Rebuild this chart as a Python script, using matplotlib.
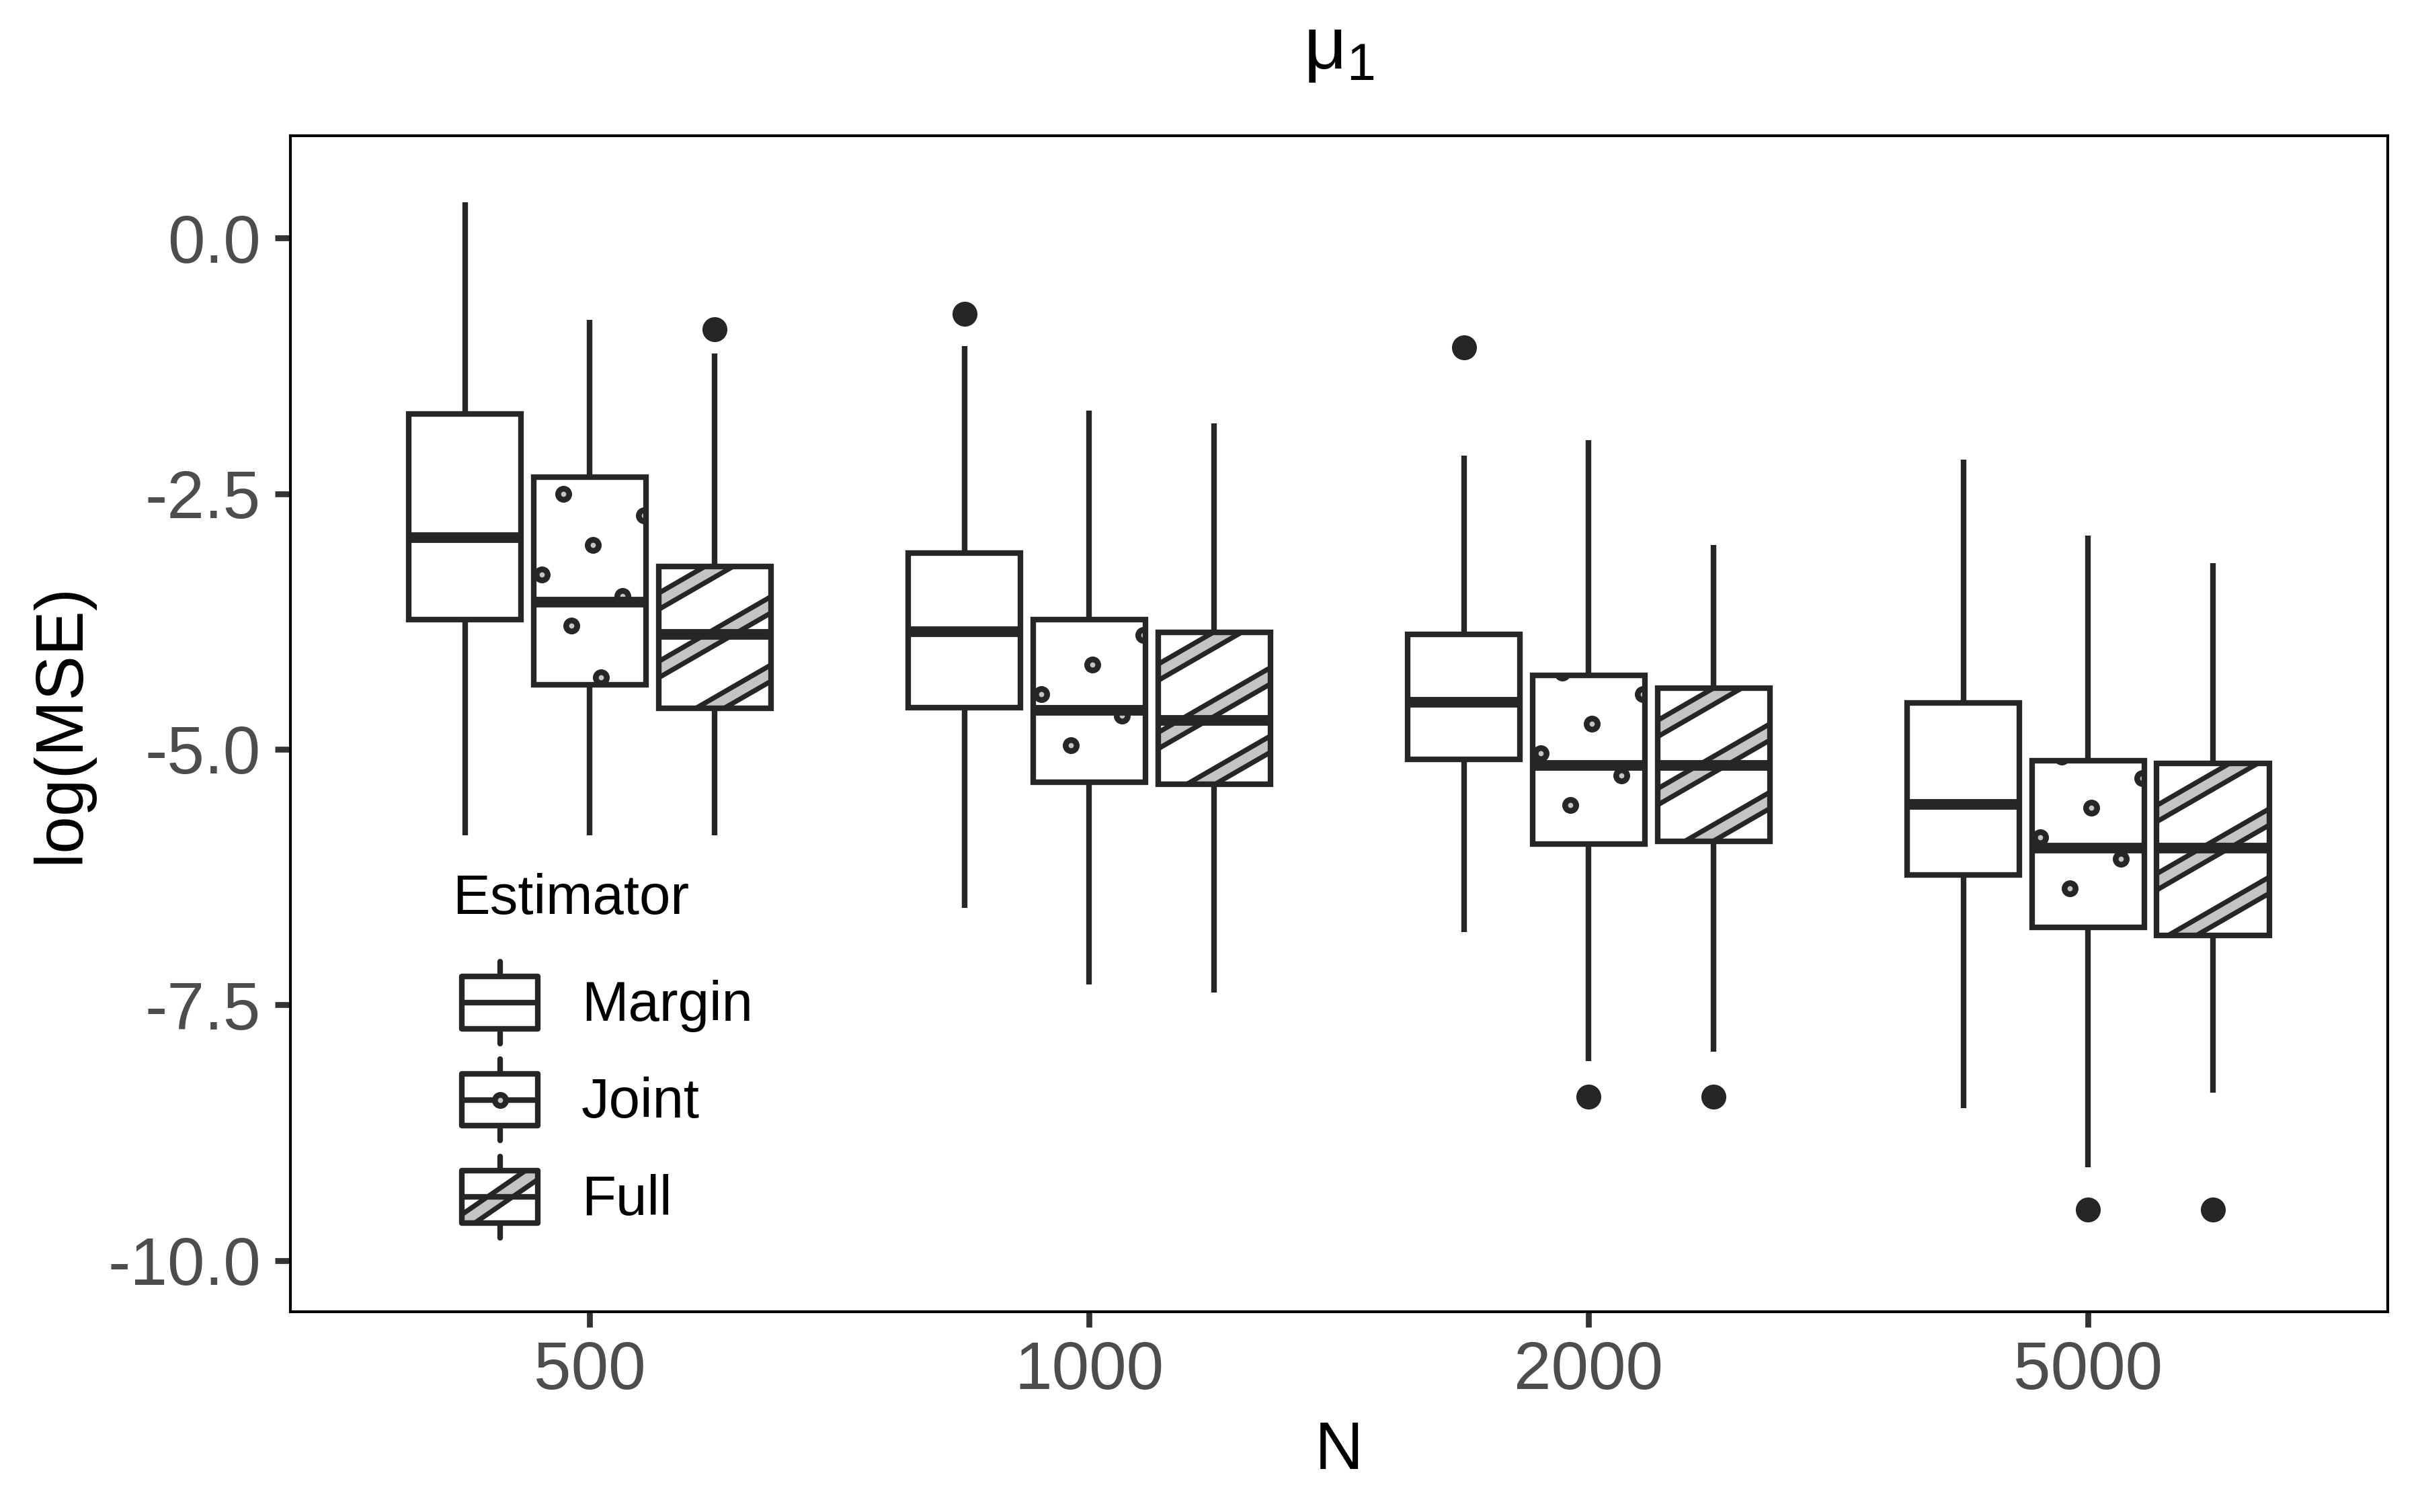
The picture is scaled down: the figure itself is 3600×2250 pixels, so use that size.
import numpy as np
import matplotlib
matplotlib.use("Agg")
import matplotlib.pyplot as plt
from matplotlib.patches import Polygon, PathPatch, Rectangle
from matplotlib.lines import Line2D
from matplotlib.legend_handler import HandlerBase

plt.rcParams['font.family'] = ['Liberation Sans', 'DejaVu Sans']
plt.rcParams['mathtext.fontset'] = 'custom'
plt.rcParams['mathtext.rm'] = 'Liberation Sans'
plt.rcParams['mathtext.it'] = 'Liberation Sans:italic'

DARK = '#262626'
GREY = '#c4c4c4'

# ---------------- data ----------------
n_labels = ['500', '1000', '2000', '5000']
estimators = ['Margin', 'Joint', 'Full']
patterns = ['none', 'circle', 'stripe']

margin_whishi = [0.35, -1.06, -2.13, -2.17]
margin_q3 = [-1.72, -3.08, -3.88, -4.55]
margin_med = [-2.93, -3.85, -4.54, -5.54]
margin_q1 = [-3.73, -4.59, -5.10, -6.23]
margin_whislo = [-5.84, -6.55, -6.79, -8.51]
margin_fliers = [[], [-0.74], [-1.07], []]

joint_whishi = [-0.80, -1.69, -1.98, -2.91]
joint_q3 = [-2.34, -3.73, -4.28, -5.11]
joint_med = [-3.56, -4.62, -5.16, -5.97]
joint_q1 = [-4.37, -5.32, -5.93, -6.74]
joint_whislo = [-5.84, -7.30, -8.05, -9.09]
joint_fliers = [[], [], [-8.40], [-9.50]]

full_whishi = [-1.13, -1.81, -3.00, -3.18]
full_q3 = [-3.21, -3.86, -4.40, -5.14]
full_med = [-3.88, -4.72, -5.16, -5.97]
full_q1 = [-4.60, -5.34, -5.90, -6.82]
full_whislo = [-5.84, -7.38, -7.96, -8.36]
full_fliers = [[-0.89], [], [-8.40], [-9.50]]

y_ticks = [0.0, -2.5, -5.0, -7.5, -10.0]
y_ticklabels = ['0.0', '-2.5', '-5.0', '-7.5', '-10.0']

series = {
    'Margin': dict(whishi=margin_whishi, q3=margin_q3, med=margin_med, q1=margin_q1,
                   whislo=margin_whislo, fliers=margin_fliers),
    'Joint': dict(whishi=joint_whishi, q3=joint_q3, med=joint_med, q1=joint_q1,
                  whislo=joint_whislo, fliers=joint_fliers),
    'Full': dict(whishi=full_whishi, q3=full_q3, med=full_med, q1=full_q1,
                 whislo=full_whislo, fliers=full_fliers),
}

# ---------------- figure ----------------
fig = plt.figure(figsize=(12, 7.5), dpi=300)
ax = fig.add_axes([0.1199, 0.1326, 0.8668, 0.7776])
XLIM = (0.4, 4.6)
YLIM = (-10.5, 1.0)
ax.set_xlim(*XLIM)
ax.set_ylim(*YLIM)
ax.set_autoscale_on(False)

# pixel scale (data -> px) for pattern geometry
sx = ax.bbox.width / (XLIM[1] - XLIM[0])
sy = ax.bbox.height / (YLIM[1] - YLIM[0])
pxs = fig.dpi / 300.0
SPACING = 88 * pxs
STRIPE_W = 21 * pxs
ANGLE = 30.0

offsets = [-0.25, 0.0, 0.25]
box_width = 0.225


def stripe_polys(xc, yc, hw, hh):
    th = np.radians(ANGLE)
    d = np.array([np.cos(th), np.sin(th)])
    n = np.array([-np.sin(th), np.cos(th)])
    L = np.hypot(hw, hh) + SPACING
    corners = np.array([[-hw, -hh], [hw, -hh], [hw, hh], [-hw, hh]])
    proj = corners @ n
    kmin = int(np.floor((proj.min() - STRIPE_W) / SPACING))
    kmax = int(np.ceil((proj.max() + STRIPE_W) / SPACING))
    out = []
    for k in range(kmin, kmax + 1):
        p = n * (k * SPACING)
        pts = np.array([p - d * L - n * STRIPE_W / 2, p + d * L - n * STRIPE_W / 2,
                        p + d * L + n * STRIPE_W / 2, p - d * L + n * STRIPE_W / 2])
        pts[:, 0] = pts[:, 0] / sx + xc
        pts[:, 1] = pts[:, 1] / sy + yc
        out.append(pts)
    return out


def circle_points(xc, yc, hw, hh):
    th = np.radians(ANGLE)
    u = SPACING * np.array([np.cos(th), np.sin(th)])
    v = SPACING * np.array([-np.sin(th), np.cos(th)])
    r = 14 * pxs
    m = int(np.ceil((np.hypot(hw, hh) + r) / SPACING)) + 1
    xs, ys = [], []
    origin = 0.35 * u + 0.5 * v
    for i in range(-m, m + 1):
        for j in range(-m, m + 1):
            p = origin + i * u + j * v
            if abs(p[0]) <= hw + r and abs(p[1]) <= hh + r:
                xs.append(p[0] / sx + xc)
                ys.append(p[1] / sy + yc)
    return xs, ys


for e_idx, est in enumerate(estimators):
    s = series[est]
    stats = [dict(med=s['med'][i], q1=s['q1'][i], q3=s['q3'][i], whislo=s['whislo'][i],
                  whishi=s['whishi'][i], fliers=s['fliers'][i]) for i in range(len(n_labels))]
    pos = [i + 1 + offsets[e_idx] for i in range(len(n_labels))]
    bp = ax.bxp(stats, positions=pos, widths=box_width, patch_artist=True, showcaps=False,
                boxprops=dict(facecolor='white', edgecolor='none', zorder=2),
                whiskerprops=dict(color=DARK, lw=2.0, solid_capstyle='butt', zorder=1.5),
                medianprops=dict(color=DARK, lw=3.8, solid_capstyle='butt', zorder=4),
                flierprops=dict(marker='o', markerfacecolor=DARK, markeredgecolor=DARK,
                                markersize=8.4, markeredgewidth=0.5, zorder=4),
                manage_ticks=False)
    for b, st, p in zip(bp['boxes'], stats, pos):
        xc = p
        yc = (st['q1'] + st['q3']) / 2
        hw = box_width / 2 * sx
        hh = (st['q3'] - st['q1']) / 2 * sy
        if patterns[e_idx] == 'stripe':
            for pts in stripe_polys(xc, yc, hw, hh):
                poly = Polygon(pts, closed=True, facecolor=GREY, edgecolor=DARK, lw=1.75, zorder=2.5)
                ax.add_patch(poly)
                poly.set_clip_path(b)
        elif patterns[e_idx] == 'circle':
            xs, ys = circle_points(xc, yc, hw, hh)
            ln, = ax.plot(xs, ys, ls='none', marker='o', ms=3.95, mew=2.05,
                          mfc=GREY, mec=DARK, zorder=2.5)
            ln.set_clip_path(b)
        outline = PathPatch(b.get_path(), facecolor='none', edgecolor=DARK, lw=2.0, zorder=3)
        ax.add_patch(outline)

ax.set_xlim(*XLIM)
ax.set_ylim(*YLIM)

# ---------------- axes styling ----------------
ax.set_xticks(range(1, len(n_labels) + 1))
ax.set_xticklabels(n_labels)
ax.set_yticks(y_ticks)
ax.set_yticklabels(y_ticklabels)
ax.tick_params(axis='both', direction='out', length=5.5, width=2.1, color='#333333',
               labelsize=24, labelcolor='#4d4d4d')
ax.tick_params(axis='x', pad=4.7)
ax.tick_params(axis='y', pad=5)
for sp in ax.spines.values():
    sp.set_color('black')
    sp.set_linewidth(1.0)

ax.set_xlabel('N', fontsize=24, color='black')
ax.xaxis.set_label_coords(0.5, -0.134)
ax.xaxis.label.set_va('baseline')
ax.set_ylabel('log(MSE)', fontsize=24, color='black')
ax.yaxis.set_label_coords(-0.1092, 0.5)
ax.yaxis.label.set_va('center')

fig.text(0.1199 + 0.8668 / 2, 0.9545, 'μ$_1$', ha='center', va='baseline', fontsize=26.5)


# ---------------- legend ----------------
KEY_INSET = 3.4  # points of empty space left of each key


class KeyHandle:
    def __init__(self, pattern):
        self.pattern = pattern


class HandlerBoxKey(HandlerBase):
    def create_artists(self, legend, orig_handle, xdescent, ydescent, width, height,
                       fontsize, trans):
        x0, y0 = -xdescent + KEY_INSET, -ydescent
        width = width - KEY_INSET
        cx = x0 + width / 2
        by0 = y0 + 0.18 * height
        by1 = y0 + 0.82 * height
        ym = (by0 + by1) / 2
        arts = []
        for ya, yb in [(y0, by0), (by1, y0 + height)]:
            arts.append(Line2D([cx, cx], [ya, yb], color=DARK, lw=2.0, solid_capstyle='round'))
        face = Rectangle((x0, by0), width, by1 - by0, facecolor='white', edgecolor='none')
        face.set_transform(trans)
        arts.append(face)
        if orig_handle.pattern == 'stripe':
            bw, bh = width / 2, (by1 - by0) / 2
            th = np.arctan2(bh, bw)
            d = np.array([np.cos(th), np.sin(th)])
            n = np.array([-np.sin(th), np.cos(th)])
            w = 5.1
            L = width
            c = np.array([cx, ym])
            pts = np.array([c - d * L - n * w / 2, c + d * L - n * w / 2,
                            c + d * L + n * w / 2, c - d * L + n * w / 2])
            poly = Polygon(pts, closed=True, facecolor=GREY, edgecolor=DARK, lw=1.75)
            poly.set_transform(trans)
            poly.set_clip_path(face)
            arts.append(poly)
        arts.append(Line2D([x0, x0 + width], [ym, ym], color=DARK, lw=2.0, solid_capstyle='butt'))
        if orig_handle.pattern == 'circle':
            arts.append(Line2D([cx], [ym], ls='none', marker='o', ms=3.95, mew=2.05,
                               mfc=GREY, mec=DARK))
        arts.append(Rectangle((x0, by0), width, by1 - by0, facecolor='none', edgecolor=DARK,
                              lw=2.0, joinstyle='round'))
        for a in arts:
            a.set_transform(trans)
        return arts


handles = [KeyHandle(p) for p in patterns]
leg = ax.legend(handles, estimators, handler_map={KeyHandle: HandlerBoxKey()},
                title='Estimator', loc='upper left', bbox_to_anchor=(0.0774, 0.373),
                frameon=False, fontsize=20, title_fontsize=20, handlelength=1.52,
                handleheight=1.911 * 19.5 / 20, handletextpad=0.78, labelspacing=0.28,
                borderpad=0, borderaxespad=0, alignment='left')
leg._legend_box.sep = 13

fig.savefig('out.png', dpi=300)
